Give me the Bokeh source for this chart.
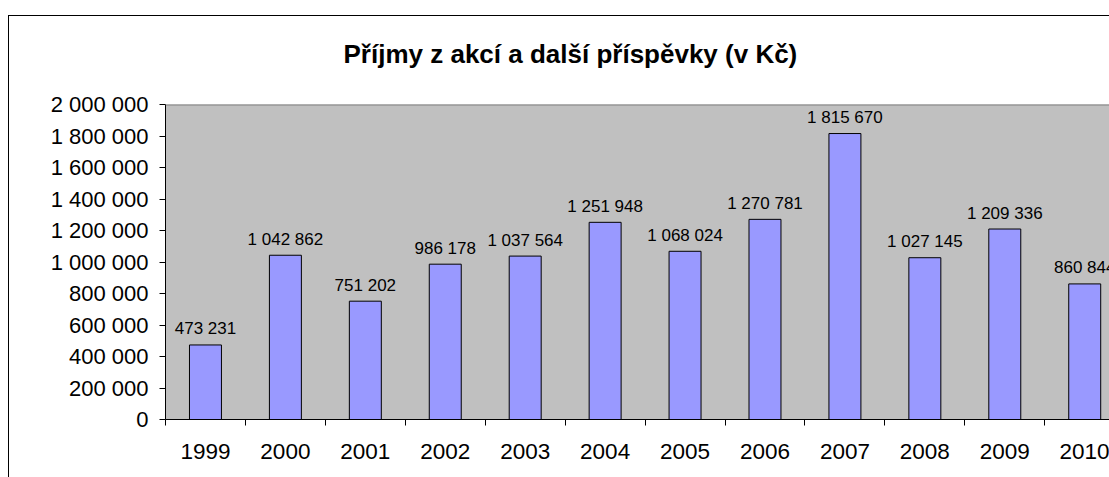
from bokeh.plotting import figure
from bokeh.models import Range1d, FixedTicker, ColumnDataSource, Span
from bokeh.core.properties import value
from bokeh.embed import file_html
from bokeh.resources import INLINE

title_text = "Příjmy z akcí a další příspěvky (v Kč)"
years = ["1999", "2000", "2001", "2002", "2003", "2004",
         "2005", "2006", "2007", "2008", "2009", "2010"]
amounts = [473231, 1042862, 751202, 986178, 1037564, 1251948,
           1068024, 1270781, 1815670, 1027145, 1209336, 860844]
y_ticks = [0, 200000, 400000, 600000, 800000, 1000000,
           1200000, 1400000, 1600000, 1800000, 2000000]


def fmt(v):
    return f"{v:,}".replace(",", " ")


FONT = "Liberation Sans"
centers = [i + 0.5 for i in range(len(years))]
bounds = list(range(len(years) + 1))
src = ColumnDataSource(dict(x=centers, top=amounts, label=[fmt(v) for v in amounts]))

p = figure(width=1109, height=477, output_backend="svg", toolbar_location=None,
           x_range=Range1d(0, 11.81), y_range=Range1d(0, 2000000),
           min_border_left=165, min_border_right=0, min_border_top=104,
           min_border_bottom=58)
p.background_fill_color = "#C0C0C0"
p.border_fill_color = None
p.outline_line_color = None
p.xgrid.visible = False
p.ygrid.visible = False

# chart-area border (top and left edges visible in the crop)
p.styles = {
    "background": ("linear-gradient(#000,#000) 8px 15px / 1px calc(100% - 15px) no-repeat, "
                   "linear-gradient(#000,#000) 8px 15px / calc(100% - 8px) 1px no-repeat, #fff"),
}

# top edge of plot area
p.add_layout(Span(location=y_ticks[-1], dimension="width",
                  line_color="#808080", line_width=2))

p.vbar(x="x", top="top", bottom=0, width=0.4, source=src,
       fill_color="#9999FF", line_color="black", line_width=1)
p.text(x="x", y="top", text="label", source=src, text_align="center",
       text_baseline="alphabetic", y_offset=-16,
       text_font=value(FONT), text_font_size="17px", text_color="black")

# title
p.title.text = title_text
p.title.align = "left"
p.title.offset = 178
p.title.standoff = 71
p.title.text_font = FONT
p.title.text_font_size = "26px"
p.title.text_font_style = "bold"
p.title.text_color = "black"

# x axis
xa = p.xaxis[0]
xa.ticker = FixedTicker(ticks=centers, minor_ticks=bounds)
xa.major_label_overrides = {c: y for c, y in zip(centers, years)}
xa.major_tick_line_color = None
xa.major_tick_out = 0
xa.major_tick_in = 0
xa.minor_tick_line_color = "black"
xa.minor_tick_out = 6
xa.minor_tick_in = 0
xa.major_label_standoff = 18
xa.major_label_text_font = FONT
xa.major_label_text_font_size = "22.5px"
xa.major_label_text_color = "black"
xa.axis_line_color = "black"

# y axis
ya = p.yaxis[0]
ya.ticker = FixedTicker(ticks=y_ticks)
ya.major_label_overrides = {t: fmt(t) for t in y_ticks}
ya.major_tick_out = 6
ya.major_tick_in = 0
ya.major_tick_line_color = "black"
ya.minor_tick_line_color = None
ya.major_label_standoff = 11
ya.major_label_text_font = FONT
ya.major_label_text_font_size = "22px"
ya.major_label_text_color = "black"
ya.axis_line_color = "black"

open("out.html", "w").write(file_html(p, INLINE))
